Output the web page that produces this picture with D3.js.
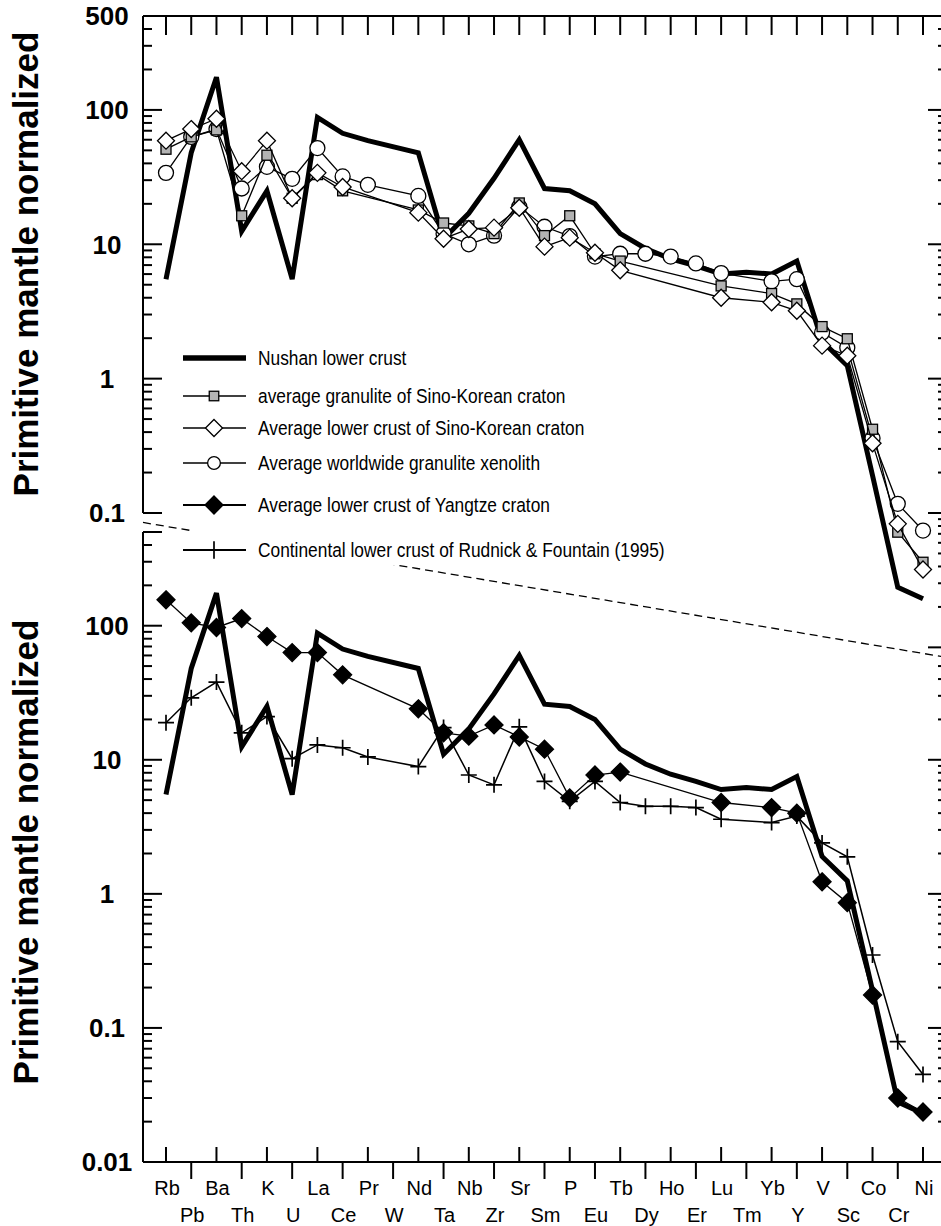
<!DOCTYPE html>
<html lang="en">
  <head>
    <meta charset="utf-8">
    <style>
      body{ margin:0; background:#fff; }
      svg{ display:block; font-family:"Liberation Sans", Arial, sans-serif; }
      .axis line, .axis path{ stroke:#000; stroke-width:2px; fill:none; }
      .ylab{ font-size:26px; font-weight:bold; }
      .ytitle{ font-size:35px; font-weight:bold; }
      .xlab{ font-size:20px; }
      .leg text{ font-size:19.5px; }
    </style>
  </head>
  <body>
    <script src="https://d3js.org/d3.v7.min.js"></script>
    <script>

      // element order along the x axis
      var elements = ["Rb","Pb","Ba","Th","K","U","La","Ce","Pr","W","Nd","Ta","Nb","Zr","Sr","Sm",
                      "P","Eu","Tb","Dy","Ho","Er","Lu","Tm","Yb","Y","V","Sc","Co","Cr","Ni"];

      // primitive mantle normalized values (null = not plotted)
      var nushan         = [5.5, 48, 175, 12.5, 25, 5.5, 88, 67, 59, null, 48, 11, 17, 31, 60, 26,
                            25, 20, 12, 9.3, 7.8, 6.9, 6.0, 6.2, 6.0, 7.5, 1.9, 1.25, 0.19, 0.028, 0.023];
      var sinoGranulite  = [51, 63, 71, 16.3, 46, 22, 33, 25, null, null, 18, 14.4, 13.7, 12, 20.3, 11.6,
                            16.3, 8.5, 7.5, null, null, null, 4.9, null, 4.3, 3.6, 2.44, 1.98, 0.42, 0.072, 0.043];
      var sinoLowerCrust = [59, 72, 86, 35, 59, 22, 34, 26.7, null, null, 17.2, 11, 13, 13.3, 18.7, 9.6,
                            11.2, 8.65, 6.4, null, null, null, 4.0, null, 3.7, 3.2, 1.76, 1.48, 0.33, 0.083, 0.038];
      var worldGranulite = [34, 63, 72, 26, 37.7, 30.7, 52, 32, 27.7, null, 22.9, 12, 10, 11.6, 19, 13.5,
                            11.5, 8.1, 8.5, 8.5, 8.1, 7.2, 6.1, null, 5.3, 5.5, 2.2, 1.7, 0.36, 0.117, 0.074];
      var yangtze        = [156, 105, 97, 113, 83, 63, 63, 43, null, null, 24, 15.9, 15, 18.2, 14.8, 12,
                            5.2, 7.7, 8.1, null, null, null, 4.8, null, 4.4, 4.0, 1.23, 0.86, 0.176, 0.03, 0.0236];
      var rudnick        = [18.9, 29, 38, 15.9, 21, 10.2, 12.9, 12.3, 10.5, null, 8.9, 17.4, 7.7, 6.5, 17.6, 6.9,
                            4.9, 6.9, 4.8, 4.5, 4.5, 4.4, 3.6, null, 3.4, 3.8, 2.4, 1.89, 0.35, 0.079, 0.045];

      var topLabels = ["500","100","10","1","0.1"];
      var bottomLabels = ["100","10","1","0.1","0.01"];

      var legendNames = ["Nushan lower crust",
                         "average granulite of Sino-Korean craton",
                         "Average lower crust of Sino-Korean craton",
                         "Average worldwide granulite xenolith",
                         "Average lower crust of Yangtze craton",
                         "Continental lower crust of Rudnick & Fountain (1995)"];

      // dashed connector: from this value on the upper panel to this value on the lower one
      var dashFrom = 0.085, dashTo = 58;

      var width = 941, height = 1226,
          left = 143, right = 947;

      var svg = d3.select("body").append("svg")
          .attr("width", width)
          .attr("height", height);

      var x = d3.scalePoint().domain(elements).range([166, 923]);
      var yTop = d3.scaleLog().domain([0.1, 500]).range([513, 16]);
      var yBot = d3.scaleLog().domain([0.01, 500]).range([1162, 532]);

      function logTicks(lo, hi){
          var t = [];
          for (var e = -2; e <= 2; e++){
              for (var m = 1; m <= 9; m++){
                  var v = m * Math.pow(10, e);
                  if (v >= lo * 0.999 && v <= hi * 1.001) t.push({v: v, major: m === 1});
              }
          }
          t.push({v: 500, major: true});
          return t.filter(function(d){ return d.v >= lo * 0.999 && d.v <= hi * 1.001; });
      }

      var ax = svg.append("g").attr("class", "axis");

      //******AXES******
      function yTicks(scale, lo, hi, xPos, dir){
          ax.selectAll(null)
              .data(logTicks(lo, hi))
              .enter().append("line")
              .attr("x1", xPos)
              .attr("x2", function(d){ return xPos + dir * (d.major ? 19 : 9); })
              .attr("y1", function(d){ return scale(d.v); })
              .attr("y2", function(d){ return scale(d.v); });
      }

      // upper panel frame
      ax.append("line").attr("x1", left).attr("x2", left).attr("y1", yTop(500)).attr("y2", yTop(0.1));
      ax.append("line").attr("x1", left).attr("x2", right).attr("y1", yTop(500)).attr("y2", yTop(500));
      ax.append("line").attr("x1", right).attr("x2", right).attr("y1", yTop(500)).attr("y2", yTop(0.01));
      yTicks(yTop, 0.1, 500, left, 1);
      yTicks(yTop, 0.01, 500, right, -1);

      ax.selectAll(null)
          .data(elements)
          .enter().append("line")
          .attr("x1", function(d){ return x(d); })
          .attr("x2", function(d){ return x(d); })
          .attr("y1", yTop(500))
          .attr("y2", yTop(500) + 19);

      // lower panel frame
      ax.append("line").attr("x1", left).attr("x2", left).attr("y1", yBot(500)).attr("y2", yBot(0.01));
      ax.append("line").attr("x1", left).attr("x2", right).attr("y1", yBot(0.01)).attr("y2", yBot(0.01));
      yTicks(yBot, 0.01, 500, left, 1);
      yTicks(yBot, 0.01, 50, right, -1);

      ax.selectAll(null)
          .data(elements)
          .enter().append("line")
          .attr("x1", function(d){ return x(d); })
          .attr("x2", function(d){ return x(d); })
          .attr("y1", yBot(0.01))
          .attr("y2", function(d, i){ return yBot(0.01) + (i % 2 ? 17 : -15); });

      svg.selectAll(null)
          .data(elements)
          .enter().append("text")
          .attr("class", "xlab")
          .attr("x", function(d){ return x(d) + 1; })
          .attr("y", function(d, i){ return i % 2 ? 1222 : 1195; })
          .attr("text-anchor", "middle")
          .text(function(d){ return d; });

      // y tick labels
      svg.selectAll(null)
          .data(topLabels)
          .enter().append("text")
          .attr("class", "ylab")
          .attr("x", 107)
          .attr("y", function(d){ return yTop(+d); })
          .attr("dy", "0.36em")
          .attr("text-anchor", "middle")
          .text(function(d){ return d; });

      svg.selectAll(null)
          .data(bottomLabels)
          .enter().append("text")
          .attr("class", "ylab")
          .attr("x", 107)
          .attr("y", function(d){ return yBot(+d); })
          .attr("dy", "0.36em")
          .attr("text-anchor", "middle")
          .text(function(d){ return d; });

      // y titles, one per panel
      [264, 852].forEach(function(cy){
          svg.append("text")
              .attr("class", "ytitle")
              .attr("transform", "translate(38," + cy + ") rotate(-90)")
              .attr("text-anchor", "middle")
              .text("Primitive mantle normalized");
      });

      // dashed connector between the panels
      svg.append("line")
          .attr("x1", left).attr("y1", yTop(dashFrom))
          .attr("x2", right).attr("y2", yBot(dashTo))
          .attr("stroke", "#000")
          .attr("stroke-width", 1.3)
          .attr("stroke-dasharray", "8,5");

      //******SERIES******
      function pts(vals, scale){
          return vals.map(function(v, i){ return {e: elements[i], v: v}; })
              .filter(function(d){ return d.v != null; })
              .map(function(d){ return [x(d.e), scale(d.v)]; });
      }

      function marker(g, type, cx, cy, s){
          s = s || 1;
          if (type === "square"){
              g.append("rect")
                  .attr("x", cx - 5 * s).attr("y", cy - 5 * s)
                  .attr("width", 10 * s).attr("height", 10 * s)
                  .attr("fill", "#b3b3b3").attr("stroke", "#000").attr("stroke-width", 1.3);
          } else if (type === "circle"){
              g.append("circle")
                  .attr("cx", cx).attr("cy", cy).attr("r", 7.5 * s)
                  .attr("fill", "#fff").attr("stroke", "#000").attr("stroke-width", 1.3);
          } else if (type === "diamond" || type === "fdiamond"){
              var h = (type === "diamond" ? 8.5 : 9) * s;
              g.append("path")
                  .attr("d", "M" + cx + "," + (cy - h) + "L" + (cx + h) + "," + cy +
                        "L" + cx + "," + (cy + h) + "L" + (cx - h) + "," + cy + "Z")
                  .attr("fill", type === "diamond" ? "#fff" : "#000")
                  .attr("stroke", "#000").attr("stroke-width", 1.3);
          } else if (type === "plus"){
              g.append("path")
                  .attr("d", "M" + (cx - 8 * s) + "," + cy + "H" + (cx + 8 * s) +
                        "M" + cx + "," + (cy - 8 * s) + "V" + (cy + 8 * s))
                  .attr("stroke", "#000").attr("stroke-width", 1.7);
          }
      }

      function series(vals, scale, type, lw){
          var p = pts(vals, scale);
          var g = svg.append("g");
          g.append("path")
              .attr("d", d3.line()(p))
              .attr("fill", "none")
              .attr("stroke", "#000")
              .attr("stroke-width", lw)
              .attr("stroke-linejoin", "miter");
          if (type) p.forEach(function(d){ marker(g, type, d[0], d[1]); });
      }

      // upper panel
      series(nushan, yTop, null, 5);
      series(worldGranulite, yTop, "circle", 1.3);
      series(sinoGranulite, yTop, "square", 1.3);
      series(sinoLowerCrust, yTop, "diamond", 1.3);

      // lower panel
      series(nushan, yBot, null, 5);
      series(rudnick, yBot, "plus", 1.5);
      series(yangtze, yBot, "fdiamond", 1.3);

      //******LEGEND******
      var legY = [358, 396, 428, 463, 505, 550],
          legTypes = [null, "square", "diamond", "circle", "fdiamond", "plus"],
          legScale = [1, 0.95, 1, 0.85, 1, 1.1];

      var leg = svg.append("g").attr("class", "leg");
      leg.append("rect")
          .attr("x", 190).attr("y", 336)
          .attr("width", 510).attr("height", 229)
          .attr("fill", "#fff");

      legendNames.forEach(function(name, i){
          leg.append("line")
              .attr("x1", 183).attr("x2", 246)
              .attr("y1", legY[i]).attr("y2", legY[i])
              .attr("stroke", "#000")
              .attr("stroke-width", i === 0 ? 5.5 : (i >= 4 ? 1.8 : 1.3));
          if (legTypes[i]) marker(leg, legTypes[i], 214, legY[i], legScale[i]);
          leg.append("text")
              .attr("transform", "translate(258," + legY[i] + ") scale(0.89,1)")
              .attr("dy", "0.35em")
              .text(name);
      });

    </script>
  </body>
</html>
